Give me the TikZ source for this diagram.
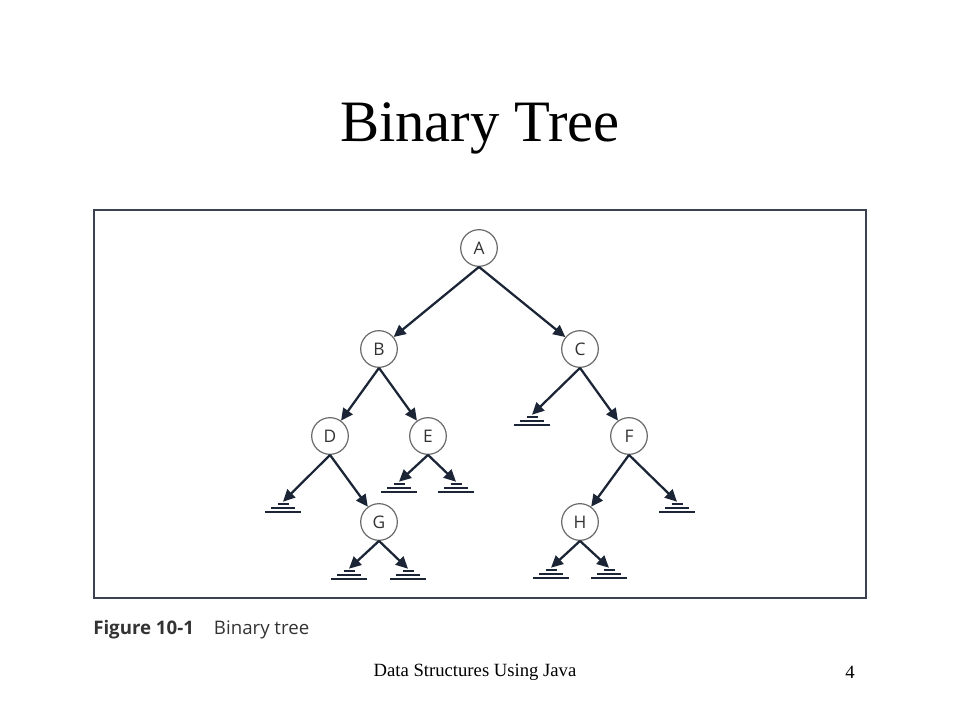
\documentclass[tikz,border=0pt]{standalone}
\usepackage{fontspec}
\setmainfont{Liberation Serif}
\newfontfamily\figfont{Open Sans}
\usetikzlibrary{arrows.meta}

\begin{document}
\begin{tikzpicture}[x=0.75pt,y=-0.75pt,
		vertex/.style={circle,draw=circlegray,line width=0.9pt,minimum size=27.5pt,inner sep=0pt,fill=white,font=\figfont\fontsize{13}{15}\selectfont,text=labelgray},
		edge/.style={draw=navy,line width=1.7pt,-{Triangle[length=9pt,width=8.5pt]}},
		nil/.style={inner sep=0pt,minimum width=28.5pt,minimum height=9pt,
			path picture={
				\draw[navy,line width=1.6pt] ([xshift=-4.1pt,yshift=3pt]path picture bounding box.center) -- ++(8.25pt,0);
				\draw[navy,line width=1.6pt] ([xshift=-9pt]path picture bounding box.center) -- ++(18pt,0);
				\draw[navy,line width=1.6pt] ([xshift=-13.5pt,yshift=-3pt]path picture bounding box.center) -- ++(27pt,0);
			}}]
					\definecolor{navy}{HTML}{1C2536}
					\definecolor{circlegray}{HTML}{6A6A6A}
					\definecolor{labelgray}{HTML}{333333}
					\definecolor{framegray}{HTML}{3B4252}
					
					\useasboundingbox (0,0) rectangle (960,720);
					
					% title
					\node (title) at (480,128) {\fontsize{44}{50}\selectfont Binary Tree};
					
					% frame
					\draw[framegray,line width=2.2pt] (94,210) rectangle (866,598);
					
					% tree nodes
					\node[vertex] (A) at (479,248) {A};
					\node[vertex] (B) at (379,349) {B};
					\node[vertex] (C) at (580,349) {C};
					\node[vertex] (D) at (330,436) {D};
					\node[vertex] (E) at (428,436) {E};
					\node[vertex] (F) at (629,436) {F};
					\node[vertex] (G) at (379,522) {G};
					\node[vertex] (H) at (580,522) {H};
					
					% empty subtrees
					\node[nil] (Dnil) at (283,508) {};
					\node[nil] (Enil1) at (399,488) {};
					\node[nil] (Enil2) at (456,488) {};
					\node[nil] (Cnil) at (532,421) {};
					\node[nil] (Fnil) at (677,508) {};
					\node[nil] (Gnil1) at (349,575) {};
					\node[nil] (Gnil2) at (408,575) {};
					\node[nil] (Hnil1) at (551,574) {};
					\node[nil] (Hnil2) at (609,574) {};
					
					% edges
					\draw[edge] (A.south) -- (B);
					\draw[edge] (A.south) -- (C);
					\draw[edge] (B.south) -- (D);
					\draw[edge] (B.south) -- (E);
					\draw[edge] (C.south) -- (Cnil.north);
					\draw[edge] (C.south) -- (F);
					\draw[edge] (D.south) -- (Dnil.north);
					\draw[edge] (D.south) -- (G);
					\draw[edge] (E.south) -- (Enil1.north);
					\draw[edge] (E.south) -- (Enil2.north);
					\draw[edge] (F.south) -- (H);
					\draw[edge] (F.south) -- (Fnil.north);
					\draw[edge] (G.south) -- (Gnil1.north);
					\draw[edge] (G.south) -- (Gnil2.north);
					\draw[edge] (H.south) -- (Hnil1.north);
					\draw[edge] (H.south) -- (Hnil2.north);
					
					% labels
					\node[anchor=west,text=labelgray,inner sep=0pt] (caption) at (93,630) {\figfont\fontsize{14}{16}\selectfont\textbf{Figure 10-1}\hspace{15pt}Binary tree};
					\node (footer) at (475,672) {\fontsize{14}{16}\selectfont Data Structures Using Java};
					\node (page) at (850,672) {\fontsize{14}{16}\selectfont 4};
				\end{tikzpicture}
\end{document}
